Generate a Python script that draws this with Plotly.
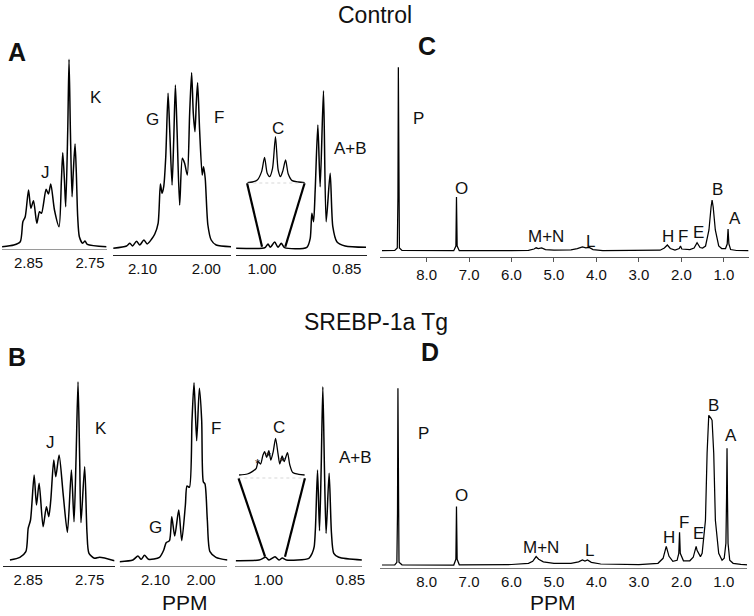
import plotly.graph_objects as go

# ---------------- data (ppm, intensity in arbitrary units) ----------------
# Panel A (Control) - zoomed regions
a1_ppm = [2.893, 2.874, 2.8635, 2.8592, 2.8554, 2.850, 2.8462, 2.8419, 2.8365, 2.8322, 2.8289,
          2.8214, 2.8176, 2.8138, 2.8078, 2.8003, 2.7965, 2.7943, 2.7916, 2.7895, 2.7862, 2.7841,
          2.7819, 2.7792, 2.7770, 2.7743, 2.7722, 2.7700, 2.7673, 2.7619, 2.7581, 2.7543, 2.723]
a1_int = [2.3, 4.0, 7.3, 27.3, 32.3, 59, 40.7, 48.3, 25.7, 37.3, 35.7,
          59.7, 55, 65, 39, 22.3, 69, 96.3, 69, 42.3, 119, 189.7,
          119, 52.3, 79, 105, 75.7, 32.3, 12.3, 5.7, 8, 4.7, 2.3]

a2_ppm = [2.1458, 2.125, 2.1198, 2.1156, 2.1094, 2.1042, 2.0979, 2.0927, 2.0859, 2.0807, 2.0755,
          2.0719, 2.0693, 2.0667, 2.0635, 2.0599, 2.0573, 2.0536, 2.0510, 2.0484, 2.0458, 2.0417,
          2.0375, 2.0339, 2.0297, 2.0260, 2.0229, 2.0203, 2.0177, 2.0156, 2.0135, 2.0104, 2.0063,
          2.0042, 2.0016, 1.9974, 1.9922, 1.9844, 1.961]
a2_int = [6.7, 9, 11.7, 9, 13.7, 10, 15, 11, 15.7, 21, 31.7,
          71, 61.7, 68.3, 98.3, 161.7, 125, 70, 115, 170, 125, 50,
          96.7, 91.7, 80, 141.7, 182.3, 141.7, 123.3, 151.7, 172.3, 125, 80,
          88.3, 76.7, 30, 15, 10, 8.3]

a3_ppm = [1.0459, 1.000, 0.9941, 0.9894, 0.9853, 0.9776, 0.9718, 0.9659, 0.9600, 0.9206, 0.9147,
          0.9118, 0.9088, 0.9059, 0.9012, 0.8971, 0.8912, 0.8865, 0.8794, 0.8747, 0.8676, 0.8529, 0.8159]
a3_int = [6.7, 6.7, 7.7, 11, 7.7, 13, 7.7, 11.7, 7.3, 7.7, 16.7,
          41.7, 33.3, 65, 130, 68.3, 164.3, 33.3, 81.7, 28.3, 13.3, 9, 7.7]

# Inset of peak C (Control), magnified
a3i_ppm = [1.000, 0.9964, 0.9929, 0.9898, 0.9877, 0.9858, 0.9841, 0.9820, 0.9799, 0.9780, 0.9763,
           0.9746, 0.9727, 0.9708, 0.9680, 0.9633, 0.959]
a3i_int = [0.7, 1.3, 3.3, 11.7, 26, 10, 6.7, 15, 46.7, 13.3, 6.7,
           12.7, 23.3, 9.3, 2.7, 1.3, 0.7]

# Panel B (SREBP-1a Tg) - zoomed regions
b1_ppm = [2.8797, 2.8635, 2.8538, 2.850, 2.8462, 2.8403, 2.8365, 2.8322, 2.8257, 2.8203, 2.8165,
          2.8132, 2.8084, 2.8051, 2.7997, 2.7932, 2.7862, 2.7797, 2.7754, 2.7722, 2.7689, 2.7662,
          2.7641, 2.7581, 2.7543, 2.7511, 2.7419, 2.7338, 2.7095]
b1_int = [6, 8.7, 14.3, 37.7, 46, 91, 61, 82.7, 39.3, 59.3, 49.3,
          66, 106, 89.3, 111, 72.7, 33.7, 96, 44.3, 106, 184.3, 106,
          43.3, 99.3, 32.7, 12.7, 7.7, 8.7, 5.3]

b2_ppm = [2.1788, 2.1496, 2.1387, 2.1314, 2.1241, 2.1153, 2.0912, 2.0818, 2.0766, 2.0693, 2.0642,
          2.0577, 2.0489, 2.0423, 2.0343, 2.0307, 2.0255, 2.0197, 2.0153, 2.0095, 2.0036, 1.9985,
          1.9949, 1.9912, 1.9861, 1.9803, 1.9672, 1.9416]
b2_int = [4.3, 6, 10, 6.7, 10.7, 6.7, 8.7, 16, 23.3, 25.3, 49.3,
          30, 56, 25.3, 61, 80, 78.7, 146, 183.3, 125.3, 177.7, 146,
          84.3, 82, 46, 14.3, 8.7, 6]

b3_ppm = [1.0595, 1.017, 1.0049, 0.9988, 0.9879, 0.9806, 0.9745, 0.9672, 0.9259, 0.9199, 0.9162,
          0.9138, 0.9101, 0.9065, 0.9035, 0.9004, 0.8974, 0.8944, 0.8889, 0.8846, 0.8804, 0.8713, 0.8288]
b3_int = [5.3, 6, 8.7, 6, 9.3, 6, 8, 6, 7.7, 12.7, 19.3,
          39.3, 96, 35.3, 96, 179.3, 96, 32.7, 92.7, 32.7, 12.7, 8.7, 6]

# Inset of peak C (SREBP-1a Tg), magnified
b3i_ppm = [1.0056, 1.0011, 0.9984, 0.9962, 0.9951, 0.9938, 0.9925, 0.9916, 0.9905, 0.9893, 0.9882,
           0.9869, 0.9856, 0.9843, 0.9833, 0.9820, 0.9809, 0.9791, 0.9778, 0.9762, 0.9729, 0.9696]
b3i_int = [3.3, 4.3, 6.7, 10, 16.7, 14.3, 23.3, 26.7, 21, 27.7, 18.3,
           26.7, 40, 25, 14.3, 22.3, 16.7, 25.7, 13.3, 5.7, 4, 3.3]

# Panel C (Control) - full spectrum
c_ppm = [9.05, 8.75, 8.69, 8.675, 8.665, 8.655, 8.64, 8.58, 7.36, 7.31, 7.296, 7.28, 7.23,
         6.0, 5.6, 5.47, 5.42, 5.37, 5.29, 5.2, 5.0, 4.6, 4.45, 4.33, 4.25, 4.17, 4.08, 3.85,
         3.0, 2.5, 2.40, 2.33, 2.26, 2.15, 2.05, 2.02, 1.99, 1.80, 1.70, 1.63, 1.56,
         1.50, 1.43, 1.35, 1.30, 1.276, 1.25, 1.20, 1.12, 1.05, 0.96, 0.92, 0.90, 0.88, 0.84, 0.7, 0.42]
c_int = [6.3, 6.5, 9, 60, 189.7, 60, 9, 6.5, 6.3, 11, 60, 11, 6.3,
         6.3, 6.6, 8.0, 9.2, 8.3, 9.0, 7.4, 6.8, 7.2, 8.3, 10, 9.2, 9.6, 7.4, 6.5,
         6.3, 6.8, 9, 12, 8.5, 7, 8.5, 11, 8, 7.5, 9, 14.3, 9.5,
         9, 11, 27, 50, 57, 50, 27, 11, 8.5, 8.5, 13, 28, 13, 7.5, 6.5, 6.3]

# Panel D (SREBP-1a Tg) - full spectrum
d_ppm = [9.05, 8.75, 8.70, 8.685, 8.675, 8.665, 8.65, 8.58, 7.36, 7.31, 7.296, 7.28, 7.23,
         6.0, 5.6, 5.50, 5.42, 5.36, 5.25, 5.0, 4.6, 4.42, 4.33, 4.27, 4.21, 4.12, 3.9,
         3.0, 2.55, 2.43, 2.355, 2.29, 2.2, 2.10, 2.06, 2.042, 2.025, 1.95, 1.80, 1.72, 1.67,
         1.651, 1.63, 1.55, 1.51, 1.432, 1.393, 1.354, 1.30, 1.276, 1.237, 1.198, 1.12, 1.041,
         0.99, 0.95, 0.935, 0.924, 0.913, 0.90, 0.86, 0.78, 0.6, 0.42]
d_int = [3.3, 3.5, 6, 55, 180, 55, 6, 3.5, 3.3, 9, 61.7, 9, 3.5,
         3.8, 5, 7, 11.7, 9, 6.5, 5, 5, 6.5, 8.3, 7.3, 8.3, 6, 4.3,
         3.8, 5, 10, 22, 12, 7, 8, 15, 36, 15, 7.5, 7.5, 11, 19,
         22, 18, 11.7, 15, 48, 115, 153, 150, 148, 115, 48, 15, 8,
         10, 25, 70, 120, 70, 25, 8, 5, 4, 3.3]

c_tick_vals = [8.0, 7.0, 6.0, 5.0, 4.0, 3.0, 2.0, 1.0]
c_tick_text = ["8.0", "7.0", "6.0", "5.0", "4.0", "3.0", "2.0", "1.0"]

# ---------------- layout helpers ----------------
W, H = 754, 616
FONT = "Liberation Sans, Arial, sans-serif"


def dx(a, b):
    return [a / W, b / W]


def dy(top, bottom):
    return [1 - bottom / H, 1 - top / H]


fig = go.Figure()

panels = [
    # (xdomain, ydomain, xrange, yrange, ticks, linecolor)
    (dx(2, 107), dy(55, 249), [2.8932, 2.723], [0, 194], [2.85, 2.75], "#9a9a9a"),
    (dx(113, 232), dy(55, 255), [2.147, 1.961], [0, 200], [2.10, 2.00], "#222222"),
    (dx(237, 368), dy(55, 255), [1.046, 0.815], [0, 200], [1.00, 0.85], "#222222"),
    (dx(248.3, 306), dy(123.3, 183.3), [1.0, 0.959], [0, 60], None, None),
    (dx(3.3, 115), dy(376, 566), [2.8905, 2.7095], [0, 190], [2.85, 2.75], "#222222"),
    (dx(120, 228.3), dy(376, 566), [2.179, 1.942], [0, 190], [2.10, 2.00], "#8a8a8a"),
    (dx(236, 363.3), dy(376, 566), [1.061, 0.829], [0, 190], [1.00, 0.85], "#8a8a8a"),
    (dx(239.3, 306), dy(418.3, 478.3), [1.006, 0.9696], [0, 60], None, None),
    (dx(381.7, 751.7), dy(60, 257), [9.093, 0.4136], [0, 197], "C", "#555555"),
    (dx(381.7, 750), dy(380, 568.3), [9.093, 0.453], [0, 188.3], "D", "#777777"),
]

series = [
    (a1_ppm, a1_int, "spline", 1.5), (a2_ppm, a2_int, "spline", 1.5), (a3_ppm, a3_int, "spline", 1.5),
    (a3i_ppm, a3i_int, "spline", 1.3),
    (b1_ppm, b1_int, "spline", 1.5), (b2_ppm, b2_int, "spline", 1.5), (b3_ppm, b3_int, "spline", 1.5),
    (b3i_ppm, b3i_int, "spline", 1.3),
    (c_ppm, c_int, "linear", 1.25), (d_ppm, d_int, "linear", 1.25),
]

layout = dict(
    width=W, height=H, margin=dict(l=0, r=0, t=0, b=0),
    paper_bgcolor="white", plot_bgcolor="rgba(0,0,0,0)",
    showlegend=False, font=dict(family=FONT, color="#111111"),
)

for i, ((xd, yd, xr, yr, tk, lc), (px, py, shp, lw)) in enumerate(zip(panels, series), start=1):
    sfx = "" if i == 1 else str(i)
    fig.add_trace(go.Scatter(
        x=px, y=py, mode="lines", xaxis="x" + sfx, yaxis="y" + sfx,
        line=dict(color="black", width=lw, shape=shp, smoothing=0.7 if shp == "spline" else None),
        hoverinfo="skip",
    ))
    xa = dict(domain=xd, range=xr, anchor="y" + sfx, showgrid=False, zeroline=False,
              fixedrange=True)
    ya = dict(domain=yd, range=yr, anchor="x" + sfx, visible=False, fixedrange=True)
    if tk is None:
        xa.update(visible=False)
    else:
        xa.update(showline=True, linecolor=lc, linewidth=1.2,
                  tickfont=dict(size=15, family=FONT, color="#111111"))
        if tk == "C":
            xa.update(tickvals=c_tick_vals, ticktext=c_tick_text, ticks="outside",
                      ticklen=4, tickcolor=lc, tickwidth=1)
        elif tk == "D":
            xa.update(tickvals=c_tick_vals, ticktext=c_tick_text, ticks="")
        else:
            xa.update(tickvals=tk, ticktext=["%.2f" % v for v in tk], ticks="")
    layout["xaxis" + sfx] = xa
    layout["yaxis" + sfx] = ya

fig.update_layout(**layout)

# zoom trapezoids and dotted inset baselines
shapes = [
    dict(type="line", xref="x3", yref="y3", x0=1.0265, y0=71.7, x1=1.0, y1=8.3,
         line=dict(color="black", width=2.2)),
    dict(type="line", xref="x3", yref="y3", x0=0.9247, y0=71.7, x1=0.9588, y1=8.3,
         line=dict(color="black", width=2.2)),
    dict(type="line", xref="x4 domain", yref="y4", x0=0, x1=1, y0=0, y1=0,
         line=dict(color="#999999", width=1, dash="dot")),
    dict(type="line", xref="x7", yref="y7", x0=1.0546, y0=87.7, x1=1.0061, y1=9.3,
         line=dict(color="black", width=2.2)),
    dict(type="line", xref="x7", yref="y7", x0=0.9332, y0=87.7, x1=0.9696, y1=9.3,
         line=dict(color="black", width=2.2)),
    dict(type="line", xref="x8 domain", yref="y8", x0=0, x1=1, y0=0, y1=0,
         line=dict(color="#999999", width=1, dash="dot")),
]
fig.update_layout(shapes=shapes)


def ann(text, x, y, size=17, bold=False, yanchor="middle"):
    return dict(text=("<b>%s</b>" % text) if bold else text, x=x / W, y=1 - y / H,
                xref="paper", yref="paper", showarrow=False, xanchor="center", yanchor=yanchor,
                font=dict(family=FONT, size=size, color="#111111"))


annotations = [
    ann("Control", 376, 0, size=23, yanchor="top"),
    ann("SREBP-1a Tg", 377, 322, size=23),
    ann("A", 17.5, 52, size=25, bold=True),
    ann("B", 16.7, 357, size=25, bold=True),
    ann("C", 429, 46, size=25, bold=True),
    ann("D", 431.5, 352, size=25, bold=True),
    # panel A labels
    ann("K", 96.7, 98), ann("J", 46, 172), ann("G", 153, 120), ann("F", 220, 117),
    ann("C", 279.3, 129), ann("A+B", 351.7, 148),
    # panel B labels
    ann("K", 101.7, 428), ann("J", 51, 442), ann("G", 156, 527), ann("F", 216.7, 428),
    ann("C", 280, 427), ann("A+B", 356.7, 457),
    ann("*", 259, 463, size=13), ann("*", 270, 456, size=13), ann("*", 284, 461, size=13),
    # panel C labels
    ann("P", 420, 118), ann("O", 463.3, 188), ann("M+N", 548, 237), ann("L", 593, 242),
    ann("H", 671, 237), ann("F", 686, 237), ann("E", 701, 232), ann("B", 720, 189),
    ann("A", 738, 218),
    # panel D labels
    ann("P", 425, 433), ann("O", 463, 495), ann("M+N", 543, 547), ann("L", 592, 550),
    ann("H", 672, 537), ann("F", 687, 522), ann("E", 701, 533), ann("B", 716, 405),
    ann("A", 734, 435),
    # axis titles
    ann("PPM", 186, 616, size=21, yanchor="bottom"), ann("PPM", 555, 616, size=21, yanchor="bottom"),
]
fig.update_layout(annotations=annotations)

fig.write_html("out.html", config={"displayModeBar": False},
               post_script="document.body.style.margin='0';document.body.style.padding='0';")
